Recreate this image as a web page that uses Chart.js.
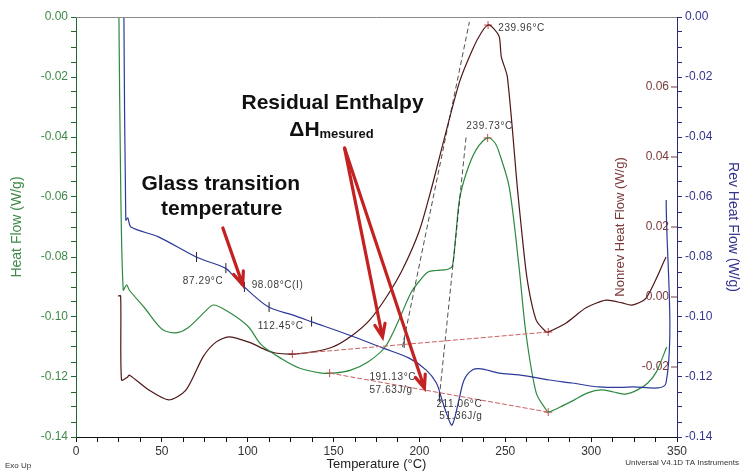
<!DOCTYPE html>
<html>
<head>
<meta charset="utf-8">
<script src="https://cdn.jsdelivr.net/npm/chart.js@4"></script>
<style>
  html, body { margin: 0; padding: 0; background: #fff; }
  #wrap { width: 741px; height: 472px; }
</style>
</head>
<body>
<div id="wrap"><canvas id="dsc" width="741" height="472"></canvas></div>
<script>
// Heat Flow (left axis, W/g)
const tempHF = [25, 26, 27.5, 29.5, 31, 40, 50, 58, 65, 75, 80, 88, 100, 108, 120, 130, 143, 150, 160, 170, 180, 188, 195, 200, 205, 210, 214, 217, 219.2, 221, 223.3, 227.3, 233, 239.7, 244, 246.5, 252.3, 258, 262, 268, 273.8, 275, 282, 290, 298, 306, 313, 320, 327, 333, 338, 344];
const heatFlow = [0, -0.055, -0.091, -0.0893, -0.091, -0.097, -0.104, -0.1053, -0.1037, -0.0983, -0.096, -0.098, -0.103, -0.1093, -0.114, -0.117, -0.1187, -0.1187, -0.1177, -0.115, -0.110, -0.101, -0.092, -0.088, -0.085, -0.0845, -0.0843, -0.084, -0.083, -0.074, -0.061, -0.052, -0.0443, -0.0403, -0.042, -0.0453, -0.0567, -0.0833, -0.1053, -0.1253, -0.131, -0.1317, -0.130, -0.1277, -0.1253, -0.1243, -0.125, -0.1257, -0.1243, -0.122, -0.1183, -0.110];

// Nonrev Heat Flow (inner right axis, W/g)
const tempNR = [24.5, 26, 26.5, 30, 31, 42.5, 54, 64, 74, 81.5, 89, 100.6, 110.5, 116, 126, 138, 149.4, 161, 171, 180.8, 190, 200, 207, 213.5, 223.3, 230.8, 236, 240, 243, 246.5, 247.7, 251.2, 257, 259.3, 262.8, 268, 273.8, 275, 285.5, 297, 308.7, 318, 323.8, 332, 343.6];
const nonrevFlow = [0.0003, 0.0003, -0.0237, -0.0229, -0.0223, -0.0266, -0.0294, -0.0266, -0.0171, -0.0129, -0.0114, -0.0129, -0.0151, -0.016, -0.0163, -0.0157, -0.0143, -0.0109, -0.0066, 0.0, 0.0077, 0.019, 0.031, 0.0434, 0.0614, 0.0706, 0.0755, 0.0777, 0.0768, 0.0743, 0.0686, 0.0629, 0.0314, 0.020, 0.0049, -0.0066, -0.010, -0.010, -0.0074, -0.0031, -0.0009, -0.0017, -0.0023, -0.0003, 0.0114];

// Rev Heat Flow (outer right axis, W/g)
const tempRev = [27.9, 29, 30.2, 32, 48, 70, 87, 91.3, 98, 112.2, 126, 137.8, 159, 178.5, 194, 204, 209.9, 212.8, 215.7, 219, 223, 226, 230.8, 236, 246.5, 258, 275.6, 289, 304.7, 323.8, 343.6, 343.7];
const revFlow = [0, -0.0677, -0.067, -0.070, -0.0733, -0.080, -0.0837, -0.086, -0.090, -0.0967, -0.0993, -0.1017, -0.106, -0.1103, -0.1137, -0.1177, -0.122, -0.127, -0.132, -0.136, -0.1277, -0.121, -0.1177, -0.1173, -0.1187, -0.1193, -0.121, -0.122, -0.1233, -0.1233, -0.122, -0.061];

// analysis marks
const hfMarkT = [147.7, 239.73, 275];
const hfMarkV = [-0.1187, -0.0403, -0.1317];
const nrMarkT = [126, 239.96, 275];
const nrMarkV = [-0.0163, 0.0777, -0.010];
const revMarkT = [70.2, 87.29, 98.08, 112.45, 137.2];
const revMarkV = [-0.080, -0.0837, -0.090, -0.0967, -0.1015];
const nrBaseT = [126, 275];
const nrBaseV = [-0.0163, -0.010];
const hfBaseT = [147.7, 275];
const hfBaseV = [-0.1187, -0.1317];
const nrTanT = [190.1, 229.1];
const nrTanV = [-0.0143, 0.0786];
const hfTanT = [211.6, 227.3];
const hfTanV = [-0.1267, -0.0393];
const onsetT = [191.13, 211.6];
const onsetV = [-0.0131, -0.1267];

const nonrevTicks = [-0.02, 0, 0.02, 0.04, 0.06];

// labels placed in temperature / Heat Flow units
const smallLabels = ['87.29°C', '98.08°C(I)', '112.45°C', '191.13°C', '57.63J/g', '211.06°C', '51.36J/g', '239.96°C', '239.73°C'];
const smallLabelT = [62.2, 102.3, 105.8, 170.9, 170.9, 209.9, 211.6, 245.9, 227.3];
const smallLabelV = [-0.088, -0.0893, -0.103, -0.12, -0.1243, -0.129, -0.133, -0.0037, -0.0363];

const arrowFromT = [85.5, 156.4, 156.4];
const arrowFromV = [-0.0703, -0.0437, -0.0437];
const arrowToT = [97.1, 178.5, 202.9];
const arrowToV = [-0.0893, -0.1067, -0.1237];

const pts = (xs, ys) => xs.map((x, i) => ({ x: x, y: ys[i] }));
const isMajor = (v, step) => Math.abs(v / step - Math.round(v / step)) < 1e-6;
const FONT = "'Liberation Sans', Arial, sans-serif";

const decor = {
  id: 'decor',
  afterDatasetsDraw(chart) {
    const c = chart.ctx, a = chart.chartArea;
    const sx = chart.scales.x, sy = chart.scales.y, sn = chart.scales.yN;
    c.save();
    // top frame line
    c.strokeStyle = '#8a8a8a';
    c.lineWidth = 1;
    c.beginPath();
    c.moveTo(a.left, a.top + 0.5);
    c.lineTo(a.right, a.top + 0.5);
    c.stroke();

    // nonrev axis labels (drawn inside the plot)
    c.fillStyle = '#7a3a3a';
    c.strokeStyle = '#7a3a3a';
    c.font = '12px ' + FONT;
    c.textAlign = 'right';
    c.textBaseline = 'middle';
    nonrevTicks.forEach(v => {
      const y = sn.getPixelForValue(v);
      c.beginPath();
      c.moveTo(a.right - 6, y);
      c.lineTo(a.right, y);
      c.stroke();
      c.fillText(v.toFixed(2), a.right - 8, y);
    });
    c.save();
    c.translate(620, (a.top + a.bottom) / 2);
    c.rotate(-Math.PI / 2);
    c.textAlign = 'center';
    c.font = '13px ' + FONT;
    c.fillText('Nonrev Heat Flow (W/g)', 0, 0);
    c.restore();

    // small result labels
    c.fillStyle = '#3a3a3a';
    c.font = '10px ' + FONT;
    c.textAlign = 'left';
    c.letterSpacing = '0.6px';
    smallLabels.forEach((t, i) => {
      c.fillText(t, sx.getPixelForValue(smallLabelT[i]), sy.getPixelForValue(smallLabelV[i]));
    });
    c.letterSpacing = '0px';

    // red arrows
    c.strokeStyle = '#c42222';
    c.lineWidth = 3.2;
    c.lineCap = 'round';
    arrowFromT.forEach((t, i) => {
      const x1 = sx.getPixelForValue(t), y1 = sy.getPixelForValue(arrowFromV[i]);
      const x2 = sx.getPixelForValue(arrowToT[i]), y2 = sy.getPixelForValue(arrowToV[i]);
      const ang = Math.atan2(y2 - y1, x2 - x1);
      c.beginPath();
      c.moveTo(x1, y1);
      c.lineTo(x2, y2);
      c.moveTo(x2 - 14 * Math.cos(ang - 0.38), y2 - 14 * Math.sin(ang - 0.38));
      c.lineTo(x2, y2);
      c.lineTo(x2 - 14 * Math.cos(ang + 0.38), y2 - 14 * Math.sin(ang + 0.38));
      c.stroke();
    });

    // bold callouts
    c.fillStyle = '#111';
    c.textAlign = 'center';
    c.font = 'bold 21px ' + FONT;
    c.fillText('Glass transition', sx.getPixelForValue(84.3), sy.getPixelForValue(-0.0557));
    c.fillText('temperature', sx.getPixelForValue(84.9), sy.getPixelForValue(-0.064));
    c.fillText('Residual Enthalpy', sx.getPixelForValue(149.4), sy.getPixelForValue(-0.0287));
    const hx = sx.getPixelForValue(148.8), hy = sy.getPixelForValue(-0.0377);
    c.font = 'bold 13px ' + FONT;
    const subW = c.measureText('mesured').width;
    c.font = 'bold 21px ' + FONT;
    const dW = c.measureText('ΔH').width;
    c.textAlign = 'left';
    const x0 = hx - (dW + subW) / 2;
    c.fillText('ΔH', x0, hy);
    c.font = 'bold 13px ' + FONT;
    c.fillText('mesured', x0 + dW, hy + 4);

    // footer texts
    c.fillStyle = '#333';
    c.font = '8px ' + FONT;
    c.textAlign = 'left';
    c.fillText('Exo Up', 5, 466);
    c.textAlign = 'right';
    c.fillText('Universal V4.1D TA Instruments', 739, 463);
    c.restore();
  }
};

const lineDs = (label, xs, ys, color, axis, extra) => Object.assign({
  label: label,
  data: pts(xs, ys),
  borderColor: color,
  borderWidth: 1.2,
  pointRadius: 0,
  tension: 0.3,
  yAxisID: axis,
  fill: false
}, extra || {});

const markDs = (xs, ys, color, axis, style, r) => ({
  data: pts(xs, ys),
  showLine: false,
  pointStyle: style,
  pointRadius: r,
  pointBorderColor: color,
  pointBackgroundColor: color,
  pointBorderWidth: 1,
  yAxisID: axis
});

new Chart(document.getElementById('dsc'), {
  type: 'line',
  data: {
    datasets: [
      lineDs('Baseline NR', nrBaseT, nrBaseV, '#c86060', 'yN', { borderDash: [5, 2], tension: 0, borderWidth: 1 }),
      lineDs('Baseline HF', hfBaseT, hfBaseV, '#c86060', 'y', { borderDash: [5, 2], tension: 0, borderWidth: 1 }),
      lineDs('Tangent NR', nrTanT, nrTanV, '#222', 'yN', { borderDash: [5, 3], tension: 0, borderWidth: 0.8 }),
      lineDs('Tangent HF', hfTanT, hfTanV, '#222', 'y', { borderDash: [5, 3], tension: 0, borderWidth: 0.8 }),
      lineDs('Rev Heat Flow', tempRev, revFlow, '#2b3a98', 'yR'),
      lineDs('Heat Flow', tempHF, heatFlow, '#2d8a40', 'y'),
      lineDs('Nonrev Heat Flow', tempNR, nonrevFlow, '#4e1717', 'yN', { tension: 0.25 }),
      markDs(hfMarkT, hfMarkV, '#d04545', 'y', 'cross', 4),
      markDs(nrMarkT, nrMarkV, '#d04545', 'yN', 'cross', 4),
      markDs(revMarkT, revMarkV, '#222', 'yR', 'line', 5),
      markDs(onsetT, onsetV.slice(0, 1), '#222', 'yN', 'line', 5),
      markDs(onsetT.slice(1), onsetV.slice(1), '#222', 'y', 'line', 5)
    ]
  },
  options: {
    responsive: false,
    animation: false,
    layout: { padding: { top: 17, left: 0, right: 0, bottom: 0 } },
    plugins: { legend: { display: false }, tooltip: { enabled: false } },
    elements: { point: { rotation: 90 } },
    scales: {
      x: {
        type: 'linear',
        position: 'bottom',
        min: 0,
        max: 350,
        afterFit: s => { s.height = 35; },
        title: { display: true, text: 'Temperature (°C)', color: '#222', font: { size: 13, family: FONT }, padding: { top: 0, bottom: 0 } },
        ticks: {
          stepSize: 12.5,
          autoSkip: false,
          maxRotation: 0,
          color: '#333',
          font: { size: 12, family: FONT },
          padding: 2,
          callback: v => isMajor(v, 50) ? String(v) : ''
        },
        border: { color: '#111', width: 1 },
        grid: { drawOnChartArea: false, tickLength: 5, color: '#111' }
      },
      y: {
        position: 'left',
        min: -0.14,
        max: 0,
        afterFit: s => { s.width = 76; },
        title: { display: true, text: 'Heat Flow (W/g)', color: '#3f8a48', font: { size: 14, family: FONT }, padding: { top: 9, bottom: 0 } },
        ticks: {
          stepSize: 0.005,
          autoSkip: false,
          color: '#3f8a48',
          font: { size: 12, family: FONT },
          padding: 3,
          callback: v => isMajor(v, 0.02) ? v.toFixed(2) : ''
        },
        border: { color: '#1f6a2e', width: 1 },
        grid: { drawOnChartArea: false, tickLength: 5, color: '#1f6a2e' }
      },
      yN: {
        display: false,
        position: 'right',
        min: -0.04,
        max: 0.08
      },
      yR: {
        position: 'right',
        min: -0.14,
        max: 0,
        afterFit: s => { s.width = 64; },
        title: { display: true, text: 'Rev Heat Flow (W/g)', color: '#34348c', font: { size: 14, family: FONT }, padding: { top: 0, bottom: 0 } },
        ticks: {
          stepSize: 0.005,
          autoSkip: false,
          color: '#34348c',
          font: { size: 12, family: FONT },
          padding: 3,
          callback: v => isMajor(v, 0.02) ? v.toFixed(2) : ''
        },
        border: { color: '#2b2b7e', width: 1 },
        grid: { drawOnChartArea: false, tickLength: 5, color: '#2b2b7e' }
      }
    }
  },
  plugins: [decor]
});
</script>
</body>
</html>
